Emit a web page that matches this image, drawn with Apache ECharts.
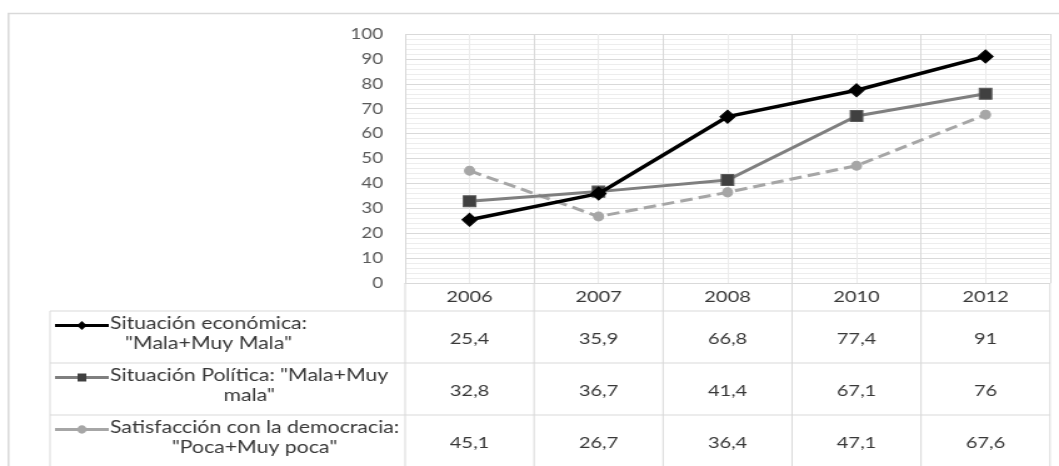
<!DOCTYPE html>
<html>
<head>
<meta charset="utf-8">
<script src="https://cdn.jsdelivr.net/npm/echarts@6/dist/echarts.min.js"></script>
<style>
  html, body { margin: 0; padding: 0; background: #ffffff; overflow: hidden; }
  #wrap { width: 1059px; height: 466px; overflow: hidden; }
  /* the chart is laid out narrower and widened to the final width */
  #chart { width: 847px; height: 466px; transform: scaleX(1.2503); transform-origin: 0 0; }
</style>
</head>
<body>
<div id="wrap"><div id="chart"></div></div>
<script>
const categories = ['2006', '2007', '2008', '2010', '2012'];
const economicValues = [25.4, 35.9, 66.8, 77.4, 91];
const politicalValues = [32.8, 36.7, 41.4, 67.1, 76];
const democracyValues = [45.1, 26.7, 36.4, 47.1, 67.6];
const seriesLabels = [
  ['Situación económica:', '"Mala+Muy Mala"'],
  ['Situación Política: "Mala+Muy', 'mala"'],
  ['Satisfacción con la democracia:', '"Poca+Muy poca"']
];
const yTicks = [0, 10, 20, 30, 40, 50, 60, 70, 80, 90, 100];

const FONT = 'Lato';
const TEXT = '#383838';
const GRID = '#d9d9d9';
const LEGEND_FONT = '17px ' + FONT;

const chart = echarts.init(document.getElementById('chart'), null, { renderer: 'canvas' });

const seriesStyles = [
  { color: '#000000', width: 3.5, type: 'solid', symbol: 'diamond', size: [12, 13], fill: '#000000', border: '#000000' },
  { color: '#7f7f7f', width: 3, type: 'solid', symbol: 'rect', size: [10, 11], fill: '#404040', border: '#595959' },
  { color: '#a6a6a6', width: 3, type: [10, 5], symbol: 'circle', size: [8, 9], fill: '#a6a6a6', border: '#a6a6a6' }
];
const seriesData = [economicValues, politicalValues, democracyValues];

chart.setOption({
  animation: false,
  backgroundColor: '#ffffff',
  grid: { left: 324, right: 7.2, top: 34, bottom: 183, show: false },
  xAxis: [
    {
      type: 'category',
      data: categories,
      boundaryGap: true,
      axisLine: { show: true, lineStyle: { color: GRID, width: 1 } },
      axisTick: { show: false },
      axisLabel: { color: TEXT, fontFamily: FONT, fontSize: 16, margin: 14, verticalAlign: 'middle' },
      splitLine: { show: true, interval: 0, lineStyle: { color: GRID, width: 1 } }
    },
    {
      // half-category lines through the centre of each column
      type: 'value',
      min: 0, max: 5, interval: 1,
      show: true,
      axisLine: { show: false }, axisTick: { show: false }, axisLabel: { show: false },
      splitLine: { show: false },
      minorTick: { show: false, splitNumber: 2 },
      minorSplitLine: { show: true, lineStyle: { color: '#ececec', width: 1 } }
    }
  ],
  yAxis: {
    type: 'value',
    min: yTicks[0], max: yTicks[yTicks.length - 1], interval: 10,
    axisLine: { show: false },
    axisTick: { show: false },
    axisLabel: { color: '#595959', fontFamily: FONT, fontSize: 15, margin: 17.6,
      formatter: v => yTicks.includes(v) ? String(v) : '' },
    splitLine: { show: true, lineStyle: { color: GRID, width: 1 } },
    minorTick: { show: false, splitNumber: 5 },
    minorSplitLine: { show: true, lineStyle: { color: '#ededed', width: 1 } }
  },
  series: seriesData.map((data, i) => ({
    type: 'line',
    name: seriesLabels[i].join(' '),
    data: data,
    xAxisIndex: 0,
    symbol: seriesStyles[i].symbol,
    symbolSize: seriesStyles[i].size,
    showSymbol: true,
    lineStyle: { color: seriesStyles[i].color, width: seriesStyles[i].width, type: seriesStyles[i].type },
    itemStyle: { color: seriesStyles[i].fill, borderColor: seriesStyles[i].border, borderWidth: 1 },
    z: 10 - i
  }))
});

// data table under the plot
const xs = categories.map(c => chart.convertToPixel({ xAxisIndex: 0 }, c));
const half = (xs[1] - xs[0]) / 2;
const plotRight = xs[xs.length - 1] + half;
const axisY = chart.convertToPixel({ yAxisIndex: 0 }, 0);
const headerBottom = axisY + 28;
const rowHeight = 52;
const legendLeft = 40;
const rowTops = seriesData.map((_, i) => headerBottom + i * rowHeight);
const tableBottom = headerBottom + seriesData.length * rowHeight;

const measureCtx = document.createElement('canvas').getContext('2d');
measureCtx.font = LEGEND_FONT;
const textWidth = s => measureCtx.measureText(s).width;

const lineEl = (x1, y1, x2, y2, color, w) => ({
  type: 'line', silent: true,
  shape: { x1, y1, x2, y2 },
  style: { stroke: color || GRID, lineWidth: w || 1 }
});

const elements = [];
// outer frame
elements.push({ type: 'rect', silent: true, shape: { x: 6.8, y: 13.5, width: 900, height: 520 },
  style: { fill: null, stroke: GRID, lineWidth: 1.5 } });

// column lines
const bounds = xs.map(x => x - half).concat([plotRight]);
bounds.forEach(x => elements.push(lineEl(x, axisY, x, tableBottom)));
elements.push(lineEl(legendLeft, headerBottom, legendLeft, tableBottom));
// row lines
elements.push(lineEl(legendLeft, headerBottom, plotRight, headerBottom));
rowTops.forEach(t => elements.push(lineEl(legendLeft, t + rowHeight, plotRight, t + rowHeight)));

// values
const fmt = v => String(v).replace('.', ',');
seriesData.forEach((data, r) => {
  data.forEach((v, c) => {
    elements.push({ type: 'text', silent: true, x: xs[c], y: rowTops[r] + 28,
      style: { text: fmt(v), fill: TEXT, font: '16px ' + FONT, align: 'center', verticalAlign: 'middle' } });
  });
});

// legend keys and labels
const keyLeft = 44, keyRight = 87, textLeft = 88;
seriesData.forEach((_, r) => {
  const st = seriesStyles[r];
  const ky = rowTops[r] + 14.5;
  elements.push(lineEl(keyLeft, ky, keyRight, ky, st.color, 3));
  const mx = (keyLeft + keyRight) / 2;
  if (st.symbol === 'diamond') {
    elements.push({ type: 'polygon', silent: true,
      shape: { points: [[mx, ky - 4.5], [mx + 4, ky], [mx, ky + 4.5], [mx - 4, ky]] },
      style: { fill: st.fill } });
  } else if (st.symbol === 'rect') {
    elements.push({ type: 'rect', silent: true, shape: { x: mx - 3.5, y: ky - 4, width: 7, height: 8 },
      style: { fill: st.fill } });
  } else {
    elements.push({ type: 'ellipse', silent: true, shape: { cx: mx, cy: ky, rx: 3.6, ry: 4.2 },
      style: { fill: st.fill } });
  }
  const center = textLeft + textWidth(seriesLabels[r][0]) / 2;
  seriesLabels[r].forEach((line, k) => {
    elements.push({ type: 'text', silent: true, x: center, y: rowTops[r] + 13 + k * 20,
      style: { text: line, fill: TEXT, font: LEGEND_FONT, align: 'center', verticalAlign: 'middle' } });
  });
});

chart.setOption({ graphic: { elements } });
</script>
</body>
</html>
